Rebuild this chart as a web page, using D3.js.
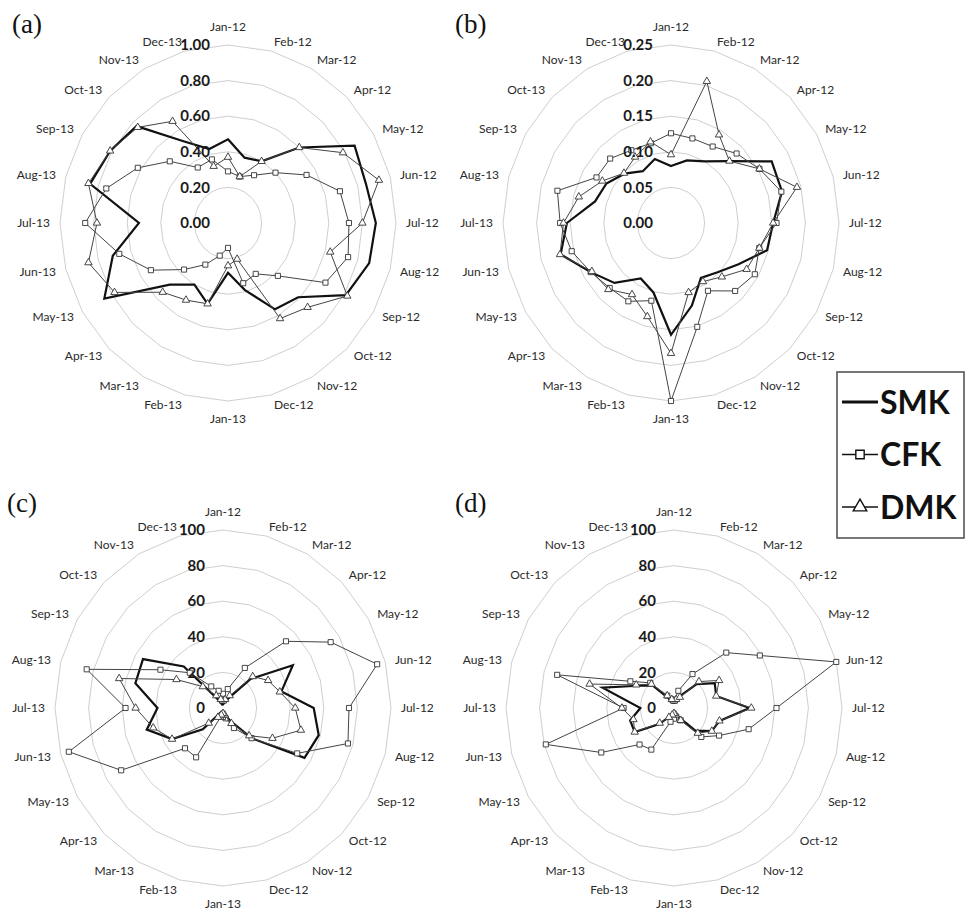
<!DOCTYPE html>
<html>
<head>
<meta charset="utf-8">
<script src="https://cdn.jsdelivr.net/npm/d3@7"></script>
<style>
  body { margin: 0; background: #fff; }
  svg { display: block; }
</style>
</head>
<body>
<svg id="chart" width="966" height="913"></svg>
<script>
// Month axis shared by all four radar panels
const months = ['Jan-12','Feb-12','Mar-12','Apr-12','May-12','Jun-12','Jul-12','Aug-12','Sep-12','Oct-12','Nov-12','Dec-12',
                'Jan-13','Feb-13','Mar-13','Apr-13','May-13','Jun-13','Jul-13','Aug-13','Sep-13','Oct-13','Nov-13','Dec-13'];
const seriesNames = ['SMK', 'CFK', 'DMK'];

// (a)
const ticksA = [0, 0.2, 0.4, 0.6, 0.8, 1.0];
const smkA = [0.47,0.38,0.40,0.60,0.87,0.85,0.88,0.87,0.81,0.59,0.56,0.39,0.28,0.47,0.40,0.49,0.85,0.71,0.53,0.85,0.81,0.77,0.53,0.43];
const cfkA = [0.29,0.27,0.31,0.40,0.54,0.69,0.72,0.74,0.67,0.42,0.33,0.35,0.14,0.19,0.27,0.37,0.53,0.67,0.85,0.75,0.62,0.49,0.36,0.37];
const dmkA = [0.37,0.27,0.40,0.60,0.79,0.93,0.80,0.63,0.82,0.67,0.62,0.21,0.24,0.47,0.50,0.55,0.78,0.86,0.78,0.86,0.81,0.76,0.66,0.33];

// (b)
const ticksB = [0, 0.05, 0.10, 0.15, 0.20, 0.25];
const smkB = [0.080,0.091,0.100,0.123,0.173,0.171,0.152,0.148,0.116,0.098,0.089,0.120,0.157,0.101,0.090,0.119,0.138,0.170,0.155,0.117,0.111,0.098,0.084,0.093];
const cfkB = [0.126,0.123,0.124,0.138,0.152,0.170,0.157,0.136,0.144,0.135,0.110,0.151,0.250,0.113,0.127,0.129,0.138,0.153,0.165,0.175,0.128,0.128,0.118,0.116];
const dmkB = [0.096,0.206,0.143,0.123,0.152,0.194,0.152,0.136,0.130,0.107,0.095,0.101,0.183,0.136,0.116,0.132,0.136,0.171,0.160,0.142,0.118,0.099,0.107,0.118];

// (c)
const ticksC = [0, 20, 40, 60, 80, 100];
const smkC = [2,3,6,23,48,36,54,59,56,24,8,3,2,2,3,17,35,47,39,54,55,33,5,2];
const cfkC = [8,11,26,53,74,95,75,77,51,24,13,6,5,5,32,32,70,95,58,84,43,28,14,10];
const dmkC = [4,5,8,25,31,35,43,48,34,22,10,4,3,4,6,12,35,43,52,64,32,17,8,5];

// (d)
const ticksD = [0, 20, 40, 60, 80, 100];
const smkD = [3,4,8,19,28,26,45,28,26,18,6,3,2,3,6,13,27,27,20,44,25,18,6,3];
const cfkD = [4,10,22,44,59,100,61,46,31,23,8,5,6,8,27,29,50,79,30,72,30,20,8,5];
const dmkD = [4,5,7,21,31,26,46,28,26,20,8,4,3,4,6,12,27,25,31,52,26,19,8,5];

const panels = [
  { label: '(a)', lx: 12,  ly: 33,  cx: 228, cy: 223, ticks: ticksA, fmt: d3.format('.2f'), series: [smkA, cfkA, dmkA] },
  { label: '(b)', lx: 455, ly: 33,  cx: 671, cy: 223, ticks: ticksB, fmt: d3.format('.2f'), series: [smkB, cfkB, dmkB] },
  { label: '(c)', lx: 7,   ly: 512, cx: 223, cy: 708, ticks: ticksC, fmt: d3.format('d'),   series: [smkC, cfkC, dmkC] },
  { label: '(d)', lx: 455, ly: 512, cx: 674, cy: 708, ticks: ticksD, fmt: d3.format('d'),   series: [smkD, cfkD, dmkD] }
];

const svg = d3.select('#chart');
const RX = 168, RY = 178;   // the scanned rings are a little narrower than tall
const angle = d3.scaleLinear().domain([0, months.length]).range([0, 2 * Math.PI]);

const styles = {
  SMK: { stroke: '#111', width: 2.2, marker: null },
  CFK: { stroke: '#444', width: 1, marker: d3.symbolSquare, size: 26 },
  DMK: { stroke: '#444', width: 1, marker: d3.symbolTriangle, size: 24 }
};

function drawPanel(p) {
  const g = svg.append('g').attr('transform', `translate(${p.cx},${p.cy})`);
  const maxV = p.ticks[p.ticks.length - 1];
  const rx = d3.scaleLinear().domain([0, maxV]).range([0, RX]);
  const ry = d3.scaleLinear().domain([0, maxV]).range([0, RY]);
  const px = (v, i) => rx(v) * Math.sin(angle(i));
  const py = (v, i) => -ry(v) * Math.cos(angle(i));

  // ring gridlines (24-sided, like the spreadsheet radar)
  g.append('g').selectAll('path')
    .data(p.ticks.slice(1))
    .enter().append('path')
    .attr('d', t => d3.line()
      .x((d, i) => px(t, i))
      .y((d, i) => py(t, i))
      .curve(d3.curveLinearClosed)(months))
    .attr('fill', 'none')
    .attr('stroke', '#cfcfcf')
    .attr('stroke-width', 1);

  // month labels round the outside
  g.append('g').selectAll('text')
    .data(months)
    .enter().append('text')
    .attr('x', (d, i) => (RX + 10) * Math.sin(angle(i)))
    .attr('y', (d, i) => {
      const c = Math.cos(angle(i)), s = Math.sin(angle(i));
      const shift = Math.abs(s) < 0.1 ? -c * 8 : 0;
      return -(RY + 10) * c + shift;
    })
    .attr('dy', '0.35em')
    .attr('text-anchor', (d, i) => {
      const s = Math.sin(angle(i));
      return s > 0.1 ? 'start' : (s < -0.1 ? 'end' : 'middle');
    })
    .attr('font-family', 'Lato, "Open Sans", sans-serif')
    .attr('font-size', 12)
    .attr('fill', '#2a2a2a')
    .text(d => d);

  const line = d3.line()
    .x((d, i) => px(d, i))
    .y((d, i) => py(d, i))
    .curve(d3.curveLinearClosed);

  // series: SMK first, then CFK, then DMK on top
  p.series.forEach((vals, k) => {
    const st = styles[seriesNames[k]];
    g.append('path')
      .attr('d', line(vals))
      .attr('fill', 'none')
      .attr('stroke', st.stroke)
      .attr('stroke-width', st.width)
      .attr('stroke-linejoin', 'miter');
    if (st.marker) {
      g.append('g').selectAll('path')
        .data(vals)
        .enter().append('path')
        .attr('transform', (d, i) => `translate(${px(d, i)},${py(d, i)})`)
        .attr('d', d3.symbol().type(st.marker).size(st.size))
        .attr('fill', '#fff')
        .attr('stroke', '#333')
        .attr('stroke-width', 0.9);
    }
  });

  // radial value labels, bold, left of the vertical axis
  g.append('g').selectAll('text')
    .data(p.ticks)
    .enter().append('text')
    .attr('x', -18)
    .attr('y', t => -ry(t))
    .attr('dy', '0.35em')
    .attr('text-anchor', 'end')
    .attr('font-family', 'Lato, "Open Sans", sans-serif')
    .attr('font-weight', 'bold')
    .attr('font-size', 15)
    .attr('fill', '#1a1a1a')
    .text(t => p.fmt(t));

  svg.append('text')
    .attr('x', p.lx)
    .attr('y', p.ly)
    .attr('font-family', '"Liberation Serif", "DejaVu Serif", serif')
    .attr('font-size', 27)
    .attr('fill', '#111')
    .text(p.label);
}

panels.forEach(drawPanel);

// legend box on the right
const legend = svg.append('g');
legend.append('rect')
  .attr('x', 837).attr('y', 372)
  .attr('width', 127).attr('height', 166)
  .attr('fill', '#fff')
  .attr('stroke', '#555')
  .attr('stroke-width', 1.6);

const legendY = d3.scalePoint().domain(seriesNames).range([402, 507]);
seriesNames.forEach(name => {
  const st = styles[name];
  const y = legendY(name);
  legend.append('line')
    .attr('x1', 842).attr('x2', 878)
    .attr('y1', y).attr('y2', y)
    .attr('stroke', '#111')
    .attr('stroke-width', name === 'SMK' ? 3.2 : 1.4);
  if (st.marker) {
    legend.append('path')
      .attr('transform', `translate(860,${y})`)
      .attr('d', d3.symbol().type(st.marker).size(name === 'CFK' ? 70 : 80))
      .attr('fill', '#fff')
      .attr('stroke', '#111')
      .attr('stroke-width', 1.4);
  }
  legend.append('text')
    .attr('x', 880)
    .attr('y', y)
    .attr('dy', '0.36em')
    .attr('font-family', 'Lato, "Open Sans", sans-serif')
    .attr('font-weight', 'bold')
    .attr('font-size', 32)
    .attr('fill', '#111')
    .text(name);
});
</script>
</body>
</html>
